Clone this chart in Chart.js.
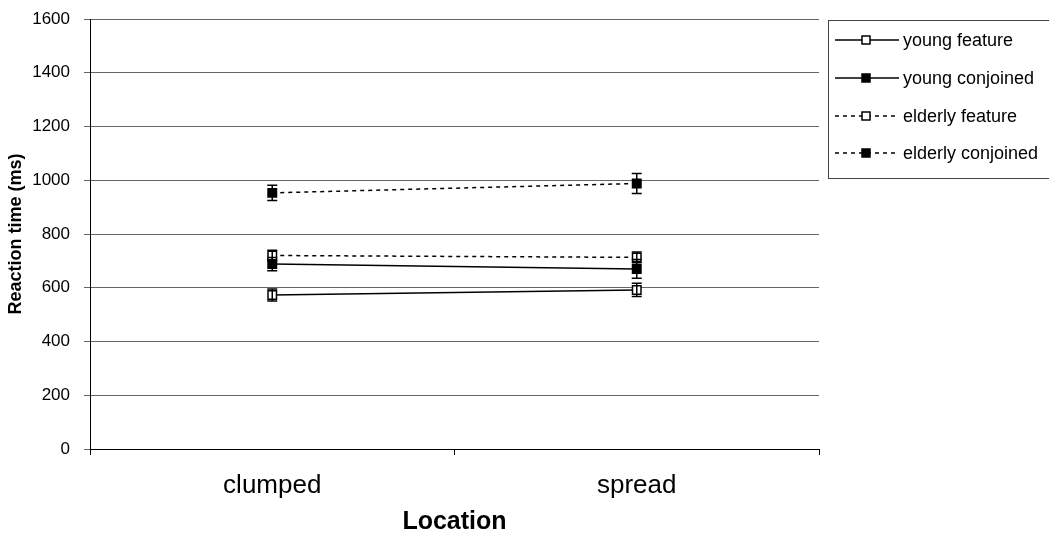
<!DOCTYPE html>
<html>
<head>
<meta charset="utf-8">
<script src="https://cdn.jsdelivr.net/npm/chart.js"></script>
<style>
  html, body { margin: 0; padding: 0; background: #fff; }
</style>
</head>
<body>
<canvas id="myChart" width="1049" height="540"></canvas>

<script>
    // Chart values
    const categories = ['clumped', 'spread'];
    const seriesNames = ['young feature', 'young conjoined', 'elderly feature', 'elderly conjoined'];
    const youngFeature = [573, 592];
    const youngConjoined = [688, 670];
    const elderlyFeature = [720, 713];
    const elderlyConjoined = [953, 988];
    // error bar half-widths (ms)
    const youngFeatureErr = [22, 25];
    const youngConjoinedErr = [25, 35];
    const elderlyFeatureErr = [20, 20];
    const elderlyConjoinedErr = [28, 37];
    const yTickValues = [0, 200, 400, 600, 800, 1000, 1200, 1400, 1600];

    const FONT = 'Arial, "Liberation Sans", sans-serif';

    function makeSet(label, data, err, dashed, filled) {
        return {
            label: label,
            data: data,
            errors: err,
            borderColor: '#000',
            borderWidth: 1.5,
            borderDash: dashed ? [4, 4] : [],
            pointStyle: 'rect',
            pointRadius: 6,
            pointBorderWidth: 1.5,
            pointBorderColor: '#000',
            pointBackgroundColor: filled ? '#000' : '#fff',
            fill: false,
            tension: 0
        };
    }

    // error bars, drawn through the library's scales
    const errorBars = {
        id: 'errorBars',
        afterDatasetsDraw(chart) {
            const c = chart.ctx;
            const y = chart.scales.y;
            c.save();
            c.strokeStyle = '#000';
            c.lineWidth = 1.5;
            c.setLineDash([]);
            chart.data.datasets.forEach((ds, i) => {
                chart.getDatasetMeta(i).data.forEach((pt, j) => {
                    const v = ds.data[j], e = ds.errors[j];
                    const top = y.getPixelForValue(v + e);
                    const bot = y.getPixelForValue(v - e);
                    c.beginPath();
                    c.moveTo(pt.x, top); c.lineTo(pt.x, bot);
                    c.moveTo(pt.x - 5, top); c.lineTo(pt.x + 5, top);
                    c.moveTo(pt.x - 5, bot); c.lineTo(pt.x + 5, bot);
                    c.stroke();
                });
            });
            c.restore();
        }
    };

    // boxed legend on the right with line-through-marker samples
    const boxLegend = {
        id: 'boxLegend',
        afterDraw(chart) {
            const c = chart.ctx;
            const left = 828, top = 20, bottom = 178;
            c.save();
            c.strokeStyle = '#444';
            c.lineWidth = 1;
            c.strokeRect(left + 0.5, top + 0.5, 1049 - left + 5, bottom - top);
            const rows = [40, 78, 116, 153];
            chart.data.datasets.forEach((ds, i) => {
                const yy = rows[i];
                c.strokeStyle = '#000';
                c.lineWidth = 1.5;
                c.setLineDash(ds.borderDash);
                c.beginPath();
                c.moveTo(835, yy); c.lineTo(899, yy);
                c.stroke();
                c.setLineDash([]);
                c.fillStyle = ds.pointBackgroundColor;
                c.fillRect(862, yy - 4, 8, 8);
                c.strokeRect(862, yy - 4, 8, 8);
                c.fillStyle = '#000';
                c.font = '18px ' + FONT;
                c.textBaseline = 'middle';
                c.textAlign = 'left';
                c.fillText(ds.label, 903, yy + 1);
            });
            c.restore();
        }
    };

    const ctx = document.getElementById('myChart').getContext('2d');
    const myChart = new Chart(ctx, {
        type: 'line',
        data: {
            labels: categories,
            datasets: [
                makeSet(seriesNames[0], youngFeature, youngFeatureErr, false, false),
                makeSet(seriesNames[1], youngConjoined, youngConjoinedErr, false, true),
                makeSet(seriesNames[2], elderlyFeature, elderlyFeatureErr, true, false),
                makeSet(seriesNames[3], elderlyConjoined, elderlyConjoinedErr, true, true)
            ]
        },
        options: {
            responsive: false,
            animation: false,
            devicePixelRatio: 1,
            layout: { padding: { left: 0, right: 230, top: 19, bottom: 0 } },
            plugins: {
                legend: { display: false },
                tooltip: { enabled: false }
            },
            scales: {
                x: {
                    offset: true,
                    afterFit(scale) { scale.height = 91; },
                    grid: {
                        display: true,
                        drawOnChartArea: false,
                        offset: true,
                        color: '#000',
                        tickLength: 6
                    },
                    border: { color: '#000', width: 1 },
                    ticks: {
                        color: '#000',
                        padding: 15,
                        font: { family: FONT, size: 26 }
                    },
                    title: {
                        display: true,
                        text: 'Location',
                        color: '#000',
                        padding: { top: 0, bottom: 3 },
                        font: { family: FONT, size: 25, weight: 'bold' }
                    }
                },
                y: {
                    min: 0,
                    max: 1600,
                    afterFit(scale) {
                        scale.width = 90;
                        scale.paddingTop = 10;
                        scale.paddingBottom = 10;
                    },
                    afterBuildTicks(scale) { scale.ticks = yTickValues.map(v => ({ value: v })); },
                    grid: {
                        color: '#666',
                        lineWidth: 1,
                        tickLength: 6
                    },
                    border: { color: '#000', width: 1 },
                    ticks: {
                        color: '#000',
                        padding: 14,
                        font: { family: FONT, size: 17 },
                        callback: (value) => String(value)
                    },
                    title: {
                        display: true,
                        text: 'Reaction time (ms)',
                        color: '#000',
                        padding: { top: 5, bottom: 0 },
                        font: { family: FONT, size: 18, weight: 'bold' }
                    }
                }
            }
        },
        plugins: [errorBars, boxLegend]
    });
</script>
</body>
</html>
